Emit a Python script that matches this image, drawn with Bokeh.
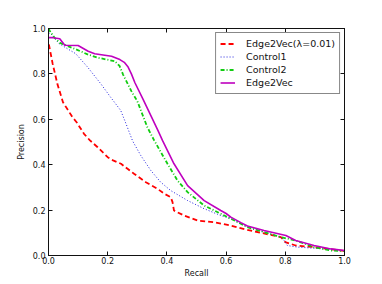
from bokeh.plotting import figure
from bokeh.models import (Range1d, LinearAxis, FixedTicker, NumeralTickFormatter, Legend,
                          LegendItem, CustomLabelingPolicy)
from bokeh.embed import file_html
from bokeh.resources import INLINE

# ---- data ----
e2v_l_x = [0.0, 0.002, 0.014, 0.03, 0.049, 0.081, 0.095, 0.12, 0.14, 0.166, 0.2, 0.218,
           0.245, 0.267, 0.289, 0.329, 0.368, 0.391, 0.413, 0.419, 0.424, 0.458, 0.503,
           0.559, 0.616, 0.672, 0.785, 0.796, 0.80, 0.835, 0.897, 1.0]
e2v_l_y = [0.93, 0.925, 0.845, 0.756, 0.675, 0.609, 0.587, 0.536, 0.507, 0.477, 0.433, 0.419,
           0.404, 0.382, 0.36, 0.323, 0.294, 0.272, 0.257, 0.235, 0.198, 0.176, 0.154,
           0.147, 0.132, 0.113, 0.081, 0.066, 0.059, 0.044, 0.037, 0.02]

ctrl1_x = [0.0, 0.008, 0.036, 0.092, 0.132, 0.177, 0.21, 0.244, 0.262, 0.284, 0.312, 0.346,
           0.379, 0.413, 0.47, 0.526, 0.582, 0.616, 0.672, 0.785, 0.796, 0.807, 0.841,
           0.92, 1.0]
ctrl1_y = [0.98, 0.977, 0.933, 0.889, 0.83, 0.756, 0.697, 0.639, 0.58, 0.505, 0.44, 0.374,
           0.323, 0.286, 0.242, 0.206, 0.176, 0.162, 0.125, 0.081, 0.066, 0.044, 0.037,
           0.03, 0.02]

ctrl2_x = [0.0, 0.004, 0.02, 0.038, 0.095, 0.134, 0.168, 0.224, 0.24, 0.252, 0.28, 0.30,
           0.334, 0.357, 0.402, 0.436, 0.47, 0.526, 0.582, 0.616, 0.672, 0.785, 0.835,
           0.897, 0.954, 1.0]
ctrl2_y = [1.0, 0.99, 0.96, 0.937, 0.907, 0.885, 0.871, 0.856, 0.835, 0.797, 0.724, 0.68,
           0.565, 0.507, 0.404, 0.33, 0.279, 0.22, 0.184, 0.162, 0.125, 0.081, 0.066,
           0.037, 0.022, 0.02]

e2v_x = [0.0, 0.01, 0.038, 0.055, 0.10, 0.134, 0.156, 0.213, 0.241, 0.256, 0.269, 0.28,
         0.292, 0.32, 0.37, 0.385, 0.424, 0.47, 0.526, 0.582, 0.60, 0.616, 0.65, 0.672,
         0.728, 0.802, 0.835, 0.897, 0.954, 1.0]
e2v_y = [0.96, 0.96, 0.955, 0.926, 0.925, 0.90, 0.889, 0.878, 0.863, 0.851, 0.83, 0.80,
         0.761, 0.687, 0.55, 0.507, 0.404, 0.308, 0.242, 0.198, 0.185, 0.169, 0.145, 0.13,
         0.110, 0.088, 0.066, 0.044, 0.029, 0.022]

ticks = [0.0, 0.2, 0.4, 0.6, 0.8, 1.0]
x_label = "Recall"
y_label = "Precision"
names = ["Edge2Vec(\u03bb=0.01)", "Control1", "Control2", "Edge2Vec"]

FONT = "DejaVu Sans"
INK = "#111111"

p = figure(width=380, height=282, output_backend="svg", toolbar_location=None,
           x_range=Range1d(0, 1), y_range=Range1d(0, 1),
           min_border_left=48, min_border_right=36, min_border_top=28, min_border_bottom=27)
p.xgrid.grid_line_color = None
p.ygrid.grid_line_color = None
p.outline_line_color = INK
p.background_fill_color = "white"
p.border_fill_color = "white"

for ax in (p.xaxis[0], p.yaxis[0]):
    ax.ticker = FixedTicker(ticks=ticks)
    ax.formatter = NumeralTickFormatter(format="0.0")
    ax.major_tick_in = 4
    ax.major_tick_out = 0
    ax.minor_tick_line_color = None
    ax.axis_line_color = INK
    ax.major_tick_line_color = INK
    ax.major_label_text_font = FONT
    ax.major_label_text_font_size = "8px"
    ax.major_label_text_color = INK
    ax.axis_label_text_font = FONT
    ax.axis_label_text_font_size = "8px"
    ax.axis_label_text_font_style = "normal"
    ax.axis_label_text_color = INK
p.xaxis[0].axis_label = x_label
p.yaxis[0].axis_label = y_label
p.xaxis[0].major_label_standoff = 1
p.xaxis[0].axis_label_standoff = 2
p.yaxis[0].major_label_standoff = 3
p.yaxis[0].axis_label_standoff = 4

hide_labels = CustomLabelingPolicy(code="""
    for (const i of Array.from(indices)) { indices.unset(i) }
    return indices
""")
for side in ("above", "right"):
    ax = LinearAxis(ticker=FixedTicker(ticks=ticks), major_tick_in=4, major_tick_out=0,
                    minor_tick_line_color=None, axis_line_color=INK,
                    major_tick_line_color=INK, major_label_policy=hide_labels,
                    major_label_standoff=0)
    p.add_layout(ax, side)

r1 = p.line(e2v_l_x, e2v_l_y, line_color="#ff0000", line_width=1.8, line_dash="5 3")
r2 = p.line(ctrl1_x, ctrl1_y, line_color="#2222dd", line_width=1.0, line_dash="1 2")
r3 = p.line(ctrl2_x, ctrl2_y, line_color="#11cc11", line_width=1.8, line_dash="4 2 1 2")
r4 = p.line(e2v_x, e2v_y, line_color="#bf00bf", line_width=1.6)

legend = Legend(items=[LegendItem(label=names[0], renderers=[r1]),
                       LegendItem(label=names[1], renderers=[r2]),
                       LegendItem(label=names[2], renderers=[r3]),
                       LegendItem(label=names[3], renderers=[r4])],
                location="top_right", margin=4, padding=4, spacing=0,
                label_height=13, glyph_height=13, glyph_width=15, label_standoff=11,
                label_text_font=FONT, label_text_font_size="9.5px", label_text_color=INK,
                border_line_color=INK, border_line_width=1,
                background_fill_color="white", background_fill_alpha=1.0)
p.add_layout(legend)

open("out.html", "w").write(file_html(p, INLINE))
